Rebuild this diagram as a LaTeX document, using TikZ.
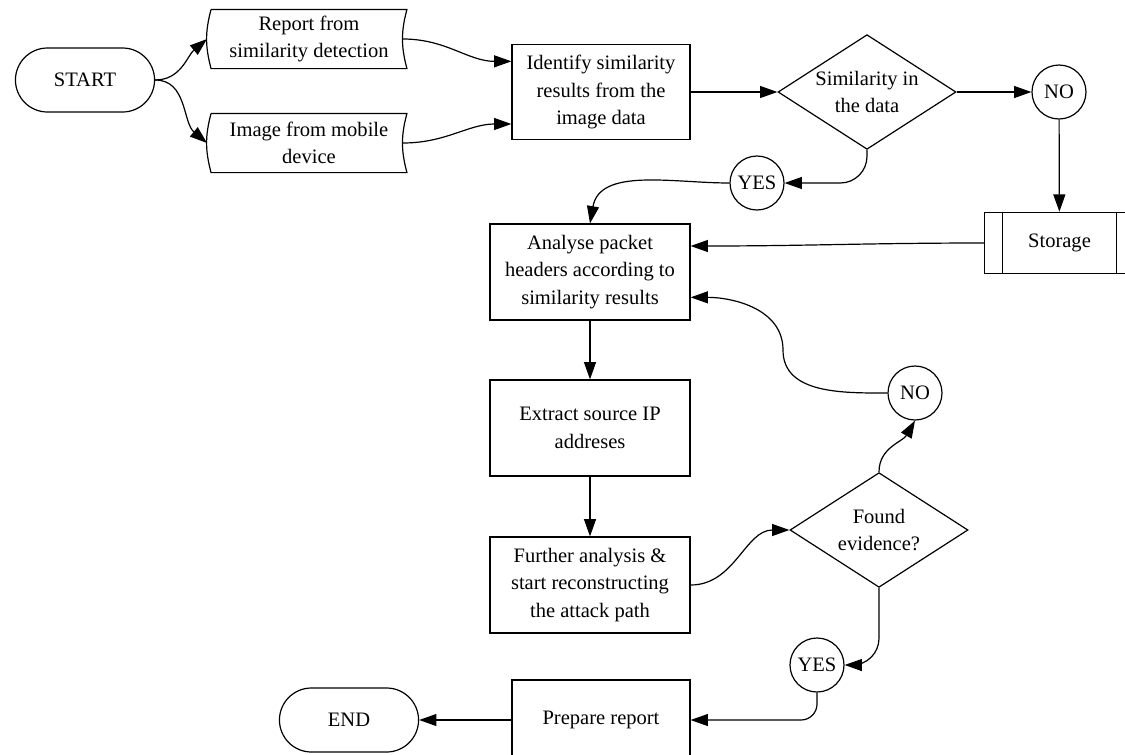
\documentclass[tikz,border=0pt]{standalone}
\usepackage{fontspec}
\setmainfont{Liberation Serif}
\usetikzlibrary{arrows.meta, shapes.geometric, shapes.misc}

\begin{document}
\begin{tikzpicture}[x=0.75pt, y=-0.75pt, line width=0.9pt,
    font=\fontsize{15.4}{20.5}\selectfont,
    >={Triangle[length=13pt,width=9pt]},
    term/.style={draw, rounded rectangle, minimum width=111pt, minimum height=48pt},
    docbox/.style={minimum width=146pt, minimum height=43.5pt, align=center, inner sep=0pt},
    procbox/.style={draw, rectangle, minimum width=150pt, minimum height=72pt, align=center},
    smallbox/.style={procbox, minimum width=133.5pt},
    decision/.style={draw, diamond, aspect=1.55, minimum width=133.5pt, minimum height=86pt, align=center, inner sep=0pt},
    answer/.style={draw, circle, minimum size=40.5pt, inner sep=0pt},
    storebox/.style={draw, rectangle, minimum width=112pt, minimum height=46pt},
    flow/.style={->}]
  \clip (0,0) rectangle (1125,754);
  % nodes
  \node[term] (start) at (85,80) {START};
  \node[docbox] (rep) at (309,39) {Report from\\similarity detection};
  \node[docbox] (img) at (309,143) {Image from mobile\\device};
  \node[smallbox, minimum height=71pt] (ident) at (601,92) {Identify similarity\\results from the\\image data};
  \node[decision] (sim) at (867,92) {Similarity in\\the data};
  \node[answer] (no1) at (1059,92) {NO};
  \node[storebox] (stor) at (1059.5,243) {Storage};
  \node[answer] (yes1) at (757,183) {YES};
  \node[procbox] (ana) at (590,272) {Analyse packet\\headers according to\\similarity results};
  \node[procbox] (ext) at (590,428) {Extract source IP\\addreses};
  \node[procbox] (fur) at (590,585) {Further analysis \&\\start reconstructing\\the attack path};
  \node[decision] (found) at (879,530) {Found\\evidence?};
  \node[answer] (no2) at (915,393) {NO};
  \node[answer] (yes2) at (817,665) {YES};
  \node[smallbox, minimum height=60pt] (prep) at (601,720) {Prepare report};
  \node[term] (end) at (349,720) {END};
  % outlines of the document shapes and the storage bars
  \foreach \n in {rep,img}
    \draw (\n.north west) -- (\n.north east) to[bend right=15] (\n.south east)
      -- (\n.south west) to[bend left=15] (\n.north west);
  \draw ([xshift=13.5pt]stor.north west) -- ([xshift=13.5pt]stor.south west);
  \draw ([xshift=-13.5pt]stor.north east) -- ([xshift=-13.5pt]stor.south east);
  \coordinate (nobend) at (783,350);
  % connectors
  \draw[flow] (start.east) to[out=0,in=220] ([xshift=-3pt]rep.west);
  \draw[flow] (start.east) to[out=0,in=140] ([xshift=-3pt]img.west);
  \draw[flow] ([xshift=-3pt]rep.east) to[out=0,in=180] ([yshift=23pt]ident.west);
  \draw[flow] ([xshift=-3pt]img.east) to[out=0,in=180] ([yshift=-24pt]ident.west);
  \draw[flow] (ident) -- (sim);
  \draw[flow] (sim) -- (no1);
  \draw[flow] (no1) -- (stor);
  \draw[flow] (stor.west) to[out=180,in=0] ([yshift=19.5pt]ana.east);
  \draw[flow, rounded corners=20pt] (sim.south) |- (yes1.east);
  \draw[flow] (yes1.west) to[out=180,in=80] (ana.north);
  \draw[flow] (ana) -- (ext);
  \draw[flow] (ext) -- (fur);
  \draw[flow] (fur.east) to[out=0,in=180] (found.west);
  \draw[flow] (found.north) to[out=90,in=240] (no2.south);
  \draw[flow] (no2.west) to[out=180,in=-90] (nobend) to[out=90,in=0] ([yshift=-19pt]ana.east);
  \draw[flow, rounded corners=20pt] (found.south) |- (yes2.east);
  \draw[flow, rounded corners=12pt] (yes2.south) |- (prep.east);
  \draw[flow] (prep.west) -- (end.east);
\end{tikzpicture}
\end{document}
